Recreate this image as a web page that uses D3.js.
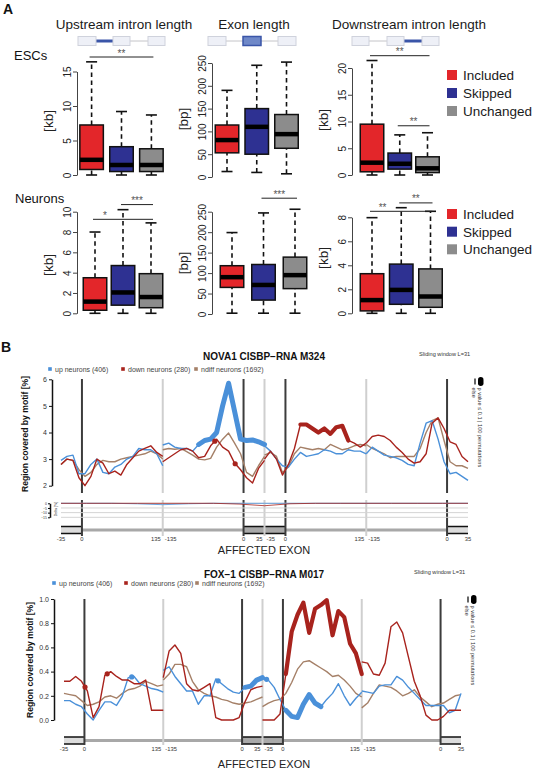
<!DOCTYPE html>
<html><head><meta charset="utf-8">
<script src="https://cdn.jsdelivr.net/npm/d3@7"></script>
<style>body{margin:0;background:#fff}svg{display:block;font-family:"Liberation Sans",Arial,Helvetica,sans-serif}</style>
</head><body><svg id="chart" width="536" height="772"></svg>
<script>
// ---------------- DATA ----------------
const groups = ["Included", "Skipped", "Unchanged"];
const groupColors = ["#e3262a", "#2e3192", "#8c8c8c"];
const panelTitles = ["Upstream intron length", "Exon length", "Downstream intron length"];
const rowLabels = ["ESCs", "Neurons"];
const unitLabels = ["[kb]", "[bp]", "[kb]"];
// box stats: [lower whisker, Q1, median, Q3, upper whisker]
const escUpstream   = [[0, 0.8, 2.2, 7.25, 16.4], [0, 0.5, 1.45, 4.1, 9.2], [0, 0.5, 1.45, 3.8, 8.7]];
const escExon       = [[12, 53, 81, 114, 190], [10, 50, 110, 150, 245], [7, 63, 94, 137, 252]];
const escDownstream = [[0, 0.6, 2.3, 9.5, 21.4], [0, 1.1, 2.1, 4.1, 7.5], [0, 0.45, 1.25, 3.4, 7.9]];
const neuUpstream   = [[0, 0.3, 1.15, 3.5, 8.0], [0, 0.8, 2.05, 4.7, 10.2], [0, 0.55, 1.6, 3.9, 8.9]];
const neuExon       = [[2, 65, 90, 118, 199], [2, 34, 71, 121, 247], [2, 62, 95, 139, 256]];
const neuDownstream = [[0, 0.2, 1.1, 3.3, 7.97], [0, 0.75, 1.95, 4.1, 8.8], [0, 0.5, 1.4, 3.7, 8.5]];
const escTicks = [[0, 5, 10, 15], [0, 50, 100, 150, 200, 250], [0, 5, 10, 15, 20]];
const neuTicks = [[0, 2, 4, 6, 8, 10], [0, 50, 100, 150, 200, 250], [0, 2, 4, 6, 8]];
// significance bars: panel, from group, to group, height (data units), label
const escSig = [[0, 0, 2, 17.1, "**"], [2, 0, 2, 22.3, "**"], [2, 1, 2, 9.2, "**"]];
const neuSig = [[0, 0, 2, 9.25, "*"], [0, 1, 2, 10.7, "***"], [1, 1, 2, 283, "***"], [2, 0, 2, 8.5, "**"], [2, 1, 2, 9.2, "**"]];

// Panel B: coverage profiles, 4 contiguous pieces of 170 nt, sampled every 10 nt (18 values per piece)
const seriesNames = ["up neurons (406)", "down neurons (280)", "ndiff neurons (1692)"];
const seriesColors = ["#4a90d9", "#a8231d", "#a58068"];
const novaUp = [2.95,3.1,3.15,2.45,2.45,2.8,3.0,2.5,2.45,2.7,2.8,3.0,3.1,3.4,3.35,3.35,3.2,2.75,
  3.53,3.6,3.45,3.4,3.4,3.3,3.55,3.7,3.75,4.0,5.0,5.85,4.8,3.75,3.7,3.72,3.65,3.55,
  3.5,3.3,3.0,2.75,2.7,3.0,3.25,3.1,3.15,3.2,3.35,3.3,3.2,3.2,3.35,3.3,3.3,3.2,
  3.2,3.45,3.3,3.15,3.1,3.05,2.95,2.8,2.75,3.6,4.35,4.45,3.75,2.9,2.45,2.5,2.35,2.2];
const novaDown = [2.8,3.0,2.95,2.3,2.0,2.35,3.0,2.85,2.45,2.55,2.4,2.8,3.05,3.3,3.4,3.5,3.25,3.1,
  2.9,3.05,3.2,3.35,3.4,3.3,3.05,3.1,3.5,3.75,3.45,3.3,2.85,2.6,2.3,2.1,2.65,2.95,
  3.0,3.3,3.0,2.4,2.8,3.4,4.3,4.3,4.15,4.0,4.15,3.95,4.2,4.25,3.7,3.6,3.45,3.6,
  3.6,3.85,3.9,3.85,3.7,3.45,3.25,3.0,2.85,2.9,3.2,4.35,4.55,4.15,3.65,3.55,3.1,2.9];
const novaNdiff = [2.8,3.0,2.95,2.6,2.35,2.5,2.8,2.95,2.9,2.9,3.0,3.05,3.1,3.15,3.2,3.3,3.2,3.0,
  3.35,3.4,3.37,3.4,3.28,3.15,3.0,2.97,3.03,3.45,3.75,3.98,3.6,3.2,2.5,2.35,2.75,3.1,
  3.15,3.25,3.1,2.5,2.7,3.2,3.45,3.4,3.35,3.4,3.35,3.55,3.45,3.35,3.4,3.5,3.55,3.5,
  3.55,3.4,3.3,3.2,3.05,3.1,3.1,3.1,3.1,3.4,4.0,4.45,4.55,3.7,2.9,2.75,2.75,2.65];
const foxUp = [0.16,0.16,0.13,0.11,0.05,0.0,0.08,0.15,0.15,0.12,0.2,0.35,0.36,0.3,0.28,0.26,0.25,0.23,
  0.41,0.44,0.36,0.3,0.24,0.24,0.13,0.2,0.2,0.34,0.3,0.26,0.23,0.22,0.27,0.28,0.33,0.35,
  0.35,0.33,0.27,0.17,0.08,0.03,0.02,0.13,0.21,0.14,0.11,0.17,0.22,0.3,0.2,0.12,0.18,0.23,
  0.24,0.23,0.22,0.28,0.29,0.29,0.36,0.33,0.27,0.22,0.17,0.12,0.12,0.12,0.12,0.06,0.08,0.22];
const foxDown = [0.32,0.32,0.36,0.32,0.24,0.02,0.11,0.37,0.4,0.36,0.33,0.33,0.3,0.3,0.33,0.08,0.08,0.08,
  0.35,0.57,0.62,0.55,0.3,0.25,0.24,0.27,0.3,0.02,0.0,0.0,0.0,0.02,0.15,0.25,0.27,0.28,
  0.0,0.0,0.0,0.05,0.38,0.73,0.87,0.97,0.72,0.92,0.95,0.99,0.7,0.9,0.85,0.63,0.55,0.38,
  0.48,0.47,0.38,0.37,0.47,0.77,0.81,0.72,0.52,0.32,0.2,0.04,0.0,0.0,0.03,0.08,0.08,0.08];
const foxNdiff = [0.22,0.21,0.2,0.16,0.12,0.13,0.15,0.19,0.2,0.18,0.22,0.25,0.26,0.28,0.32,0.3,0.28,0.29,
  0.33,0.38,0.46,0.46,0.44,0.32,0.25,0.22,0.2,0.19,0.17,0.16,0.14,0.13,0.14,0.15,0.17,0.19,
  0.11,0.14,0.16,0.17,0.22,0.31,0.42,0.48,0.49,0.46,0.43,0.4,0.36,0.37,0.33,0.28,0.22,0.19,
  0.1,0.14,0.22,0.29,0.28,0.27,0.24,0.2,0.22,0.25,0.19,0.15,0.11,0.13,0.14,0.17,0.2,0.21];
// significant stretches (p <= 0.1): series index, from nt, to nt
const novaThick = [[0, 230, 340], [1, 400, 480]];
const foxThick = [[0, 310, 340], [0, 380, 440], [1, 380, 510]];
// single significant windows: series index, position
const novaDots = [[1, 257], [1, 291]];
const foxDots = [[1, 36], [1, 74], [0, 116], [0, 264], [0, 347]];
// delta track (NOVA1), 5 points per piece
const deltaUp   = [0,0,0,-0.5,-1.5, -1.5,-0.5,0,0,0, 0,0,0,0,0, 0,0,0,0,0];
const deltaDown = [0,0,0,0,0, 0,0,0,-0.8,-2.6, -2.6,-0.5,0,0,0, 0,0,0,0,0];
const deltaTicks = [0, -5, -10, -15];
const novaTicks = [2, 3, 4, 5, 6];
const foxTicks = [0, 0.2, 0.4, 0.6, 0.8, 1.0];
const exonBounds = [35, 305, 375, 645];
const intronBreaks = [170, 340, 510];
const positionLabels = [[0, "-35", "middle"], [35, "0", "middle"], [170, "135", "end"], [170, "-135", "start"],
  [305, "0", "middle"], [340, "35", "end"], [340, "-35", "start"], [375, "0", "middle"],
  [510, "135", "end"], [510, "-135", "start"], [645, "0", "middle"], [680, "35", "middle"]];

// ---------------- DRAW ----------------
const svg = d3.select("#chart");
const txt = (x, y, s, size, opts = {}) => {
  const t = svg.append("text").attr("x", x).attr("y", y).text(s).attr("font-size", size)
    .attr("fill", opts.fill || "#111").attr("text-anchor", opts.anchor || "start");
  if (opts.bold) t.attr("font-weight", "bold");
  if (opts.rot !== undefined) t.attr("x", 0).attr("y", 0).attr("transform", `translate(${x},${y}) rotate(${opts.rot})`);
  return t;
};

// ----- Panel A -----
txt(3, 14, "A", 14, {bold: true});
const titleCx = [124, 254, 409];
panelTitles.forEach((t, i) => txt(titleCx[i], 29, t, 13.5, {anchor: "middle", fill: "#1a1a1a"}));

// gene diagrams
const diagrams = [
  {boxes: [[78, 96], [113, 130], [148, 165]], hlLine: 0, hlBox: -1},
  {boxes: [[208, 226], [243, 261], [278, 296]], hlLine: -1, hlBox: 1},
  {boxes: [[352, 369], [387, 404], [422, 439]], hlLine: 1, hlBox: -1}
];
diagrams.forEach(d => {
  for (let i = 0; i < 2; i++) {
    const hl = d.hlLine === i;
    svg.append("line").attr("x1", d.boxes[i][1]).attr("x2", d.boxes[i + 1][0]).attr("y1", 41).attr("y2", 41)
      .attr("stroke", hl ? "#3a55a8" : "#c4c4c8").attr("stroke-width", hl ? 3 : 1);
  }
  d.boxes.forEach((b, i) => {
    const hl = d.hlBox === i;
    svg.append("rect").attr("x", b[0]).attr("y", 36.5).attr("width", b[1] - b[0]).attr("height", 9)
      .attr("fill", hl ? "#6f88c8" : "#eef0f7").attr("stroke", hl ? "#3a55a8" : "#cfd2dc").attr("stroke-width", hl ? 1.5 : 1);
  });
});

txt(14, 60, rowLabels[0], 13);
txt(15, 203, rowLabels[1], 13);

const boxPanels = [
  {stats: escUpstream, ticks: escTicks[0], rng: [175, 71.5], axisX: 77, c: [91.6, 151.4], unitY: 121, sig: escSig, idx: 0},
  {stats: escExon, ticks: escTicks[1], rng: [177, 63], axisX: 212, c: [227, 286.5], unitY: 119, sig: escSig, idx: 1},
  {stats: escDownstream, ticks: escTicks[2], rng: [175, 68], axisX: 352, c: [372, 427.5], unitY: 120, sig: escSig, idx: 2},
  {stats: neuUpstream, ticks: neuTicks[0], rng: [313.3, 211.7], axisX: 77, c: [95, 151], unitY: 265, sig: neuSig, idx: 0},
  {stats: neuExon, ticks: neuTicks[1], rng: [314, 211.7], axisX: 212, c: [232, 295], unitY: 263, sig: neuSig, idx: 1},
  {stats: neuDownstream, ticks: neuTicks[2], rng: [313.3, 217.3], axisX: 352, c: [372, 430.5], unitY: 258, sig: neuSig, idx: 2}
];
const boxW = 23.5;
boxPanels.forEach(p => {
  const tmax = p.ticks[p.ticks.length - 1];
  const y = d3.scaleLinear().domain([0, tmax]).range(p.rng);
  const x = d3.scalePoint().domain(groups).range(p.c);
  const ax = svg.append("g").attr("transform", `translate(${p.axisX},0)`)
    .call(d3.axisLeft(y).tickValues(p.ticks).tickSize(4).tickSizeOuter(0));
  ax.select(".domain").attr("stroke", "#444").attr("stroke-width", 1);
  ax.selectAll(".tick line").attr("stroke", "#444");
  ax.selectAll("text").attr("transform", "rotate(-90)").attr("x", 0).attr("y", -6).attr("dy", 0)
    .attr("text-anchor", "middle").attr("font-size", 10).attr("fill", "#222")
    .attr("font-family", "Liberation Sans, Arial, sans-serif");
  txt(p.axisX - 24, p.unitY, unitLabels[p.idx], 13.5, {rot: -90, anchor: "middle", fill: "#222"});

  p.stats.forEach((s, i) => {
    const cx = x(groups[i]);
    const g = svg.append("g");
    [[s[3], s[4]], [s[0], s[1]]].forEach(([a, b]) =>
      g.append("line").attr("x1", cx).attr("x2", cx).attr("y1", y(a)).attr("y2", y(b))
        .attr("stroke", "#111").attr("stroke-width", 1.6).attr("stroke-dasharray", "4.5,3.5"));
    [s[0], s[4]].forEach(v => g.append("line").attr("x1", cx - 5.5).attr("x2", cx + 5.5).attr("y1", y(v)).attr("y2", y(v))
      .attr("stroke", "#111").attr("stroke-width", 1.6));
    g.append("rect").attr("x", cx - boxW / 2).attr("y", y(s[3])).attr("width", boxW).attr("height", y(s[1]) - y(s[3]))
      .attr("fill", groupColors[i]).attr("stroke", "#111").attr("stroke-width", 1.5);
    g.append("line").attr("x1", cx - boxW / 2).attr("x2", cx + boxW / 2).attr("y1", y(s[2])).attr("y2", y(s[2]))
      .attr("stroke", "#000").attr("stroke-width", 4.5);
  });
  p.sig.filter(s => s[0] === p.idx).forEach(s => {
    const x1 = x(groups[s[1]]), x2 = x(groups[s[2]]), yy = y(s[3]);
    svg.append("line").attr("x1", x1 - 2).attr("x2", x2 + 2).attr("y1", yy).attr("y2", yy).attr("stroke", "#222").attr("stroke-width", 1);
    // keep the stars clear of a whisker that pokes through the bar
    let lx = (x1 + x2) / 2;
    if (s[2] - s[1] === 2 && p.stats[s[1] + 1][4] > s[3] - tmax * 0.02) lx = (x1 + x(groups[s[1] + 1])) / 2 - 4;
    txt(lx, yy - 0.5, s[4], 10, {anchor: "middle", fill: "#555"});
  });
});

// legends panel A
[[75, 93, 111], [214, 231.7, 249.3]].forEach(rows => {
  rows.forEach((cy, i) => {
    svg.append("rect").attr("x", 447).attr("y", cy - 5).attr("width", 10).attr("height", 10).attr("fill", groupColors[i]);
    txt(463, cy + 5, groups[i], 13.5, {fill: "#1a1a1a"});
  });
});

// ----- Panel B -----
txt(1, 352, "B", 14, {bold: true});

const profiles = [
  {title: "NOVA1 CISBP\u2212RNA M324", data: [novaUp, novaDown, novaNdiff], thick: novaThick, dots: novaDots,
   yDomain: [2, 6], yRange: [485.7, 379.3], ticks: novaTicks, fmt: d3.format("d"), x0: 61, x1: 468, axisX: 52,
   titleY: 359.5, legendY: 369, legendX: [50, 123, 196], slideX: 419, slideY: 356,
   vSegs: [[379, 493], [500, 536]], delta: true, structY: 530, labelY: 540.5, affY: 554,
   ylab: [28, 434], pval: [478, 377]},
  {title: "FOX\u22121 CISBP\u2212RNA M017", data: [foxUp, foxDown, foxNdiff], thick: foxThick, dots: foxDots,
   yDomain: [0, 1], yRange: [720, 599], ticks: foxTicks, fmt: d3.format(".1f"), x0: 64, x1: 461, axisX: 54,
   titleY: 577.5, legendY: 583, legendX: [54, 126, 197], slideX: 414, slideY: 574,
   vSegs: [[599, 745]], delta: false, structY: 740.5, labelY: 751, affY: 768,
   ylab: [33, 660], pval: [471, 595]}
];

const pieceOffsets = d3.range(18).map(i => i * 10);
function piecePoints(arr, p) { return pieceOffsets.map((d, i) => [p * 170 + d, arr[p * 18 + i]]); }
function valueAt(arr, u) {
  const p = Math.min(3, Math.floor(u / 170)), loc = u - p * 170;
  const i = Math.min(16, Math.floor(loc / 10)), t = (loc - i * 10) / 10;
  return arr[p * 18 + i] * (1 - t) + arr[p * 18 + i + 1] * t;
}

profiles.forEach(cfg => {
  const x = d3.scaleLinear().domain([0, 680]).range([cfg.x0, cfg.x1]);
  const y = d3.scaleLinear().domain(cfg.yDomain).range(cfg.yRange);
  txt(264, cfg.titleY, cfg.title, 10, {anchor: "middle", bold: true});
  txt(cfg.slideX, cfg.slideY, "Sliding window L=31", 5.6, {fill: "#333"});
  seriesNames.forEach((n, i) => {
    svg.append("rect").attr("x", cfg.legendX[i] - 1.8).attr("y", cfg.legendY - 1.8).attr("width", 3.6).attr("height", 3.6).attr("fill", seriesColors[i]);
    txt(cfg.legendX[i] + 5, cfg.legendY + 2.5, n, 7, {fill: "#444"});
  });
  // y axis
  const ax = svg.append("g").attr("transform", `translate(${cfg.axisX},0)`)
    .call(d3.axisLeft(y).tickValues(cfg.ticks).tickFormat(cfg.fmt).tickSize(3).tickSizeOuter(0));
  ax.select(".domain").attr("stroke", "#111").attr("stroke-width", 1.5);
  ax.selectAll(".tick line").attr("stroke", "#111");
  ax.selectAll("text").attr("font-size", 7).attr("fill", "#333").attr("x", -5)
    .attr("font-family", "Liberation Sans, Arial, sans-serif");
  txt(cfg.ylab[0], cfg.ylab[1], "Region covered by motif [%]", 8.6, {rot: -90, anchor: "middle", bold: true});

  // gene structure
  const sy = cfg.structY;
  [[35, 305], [375, 645]].forEach(([a, b]) => svg.append("line").attr("x1", x(a)).attr("x2", x(b)).attr("y1", sy).attr("y2", sy)
    .attr("stroke", "#a8a8a8").attr("stroke-width", 3));
  [[0, 35, "#dcdcdc"], [305, 375, "#a9a9a9"], [645, 680, "#dcdcdc"]].forEach(([a, b, f]) => {
    svg.append("rect").attr("x", x(a)).attr("y", sy - 3.5).attr("width", x(b) - x(a)).attr("height", 7).attr("fill", f);
    [sy - 3.5, sy + 3.5].forEach(yy => svg.append("line").attr("x1", x(a)).attr("x2", x(b)).attr("y1", yy).attr("y2", yy)
      .attr("stroke", "#111").attr("stroke-width", 1.5));
  });
  positionLabels.forEach(([u, t, anc]) => {
    const dx = anc === "end" ? -2 : anc === "start" ? 2 : 0;
    txt(x(u) + dx, cfg.labelY, t, 5.8, {anchor: anc, fill: "#333"});
  });
  txt(264, cfg.affY, "AFFECTED EXON", 11, {anchor: "middle", fill: "#222"});

  // vertical lines
  cfg.vSegs.forEach(([a, b]) => {
    intronBreaks.forEach(u => svg.append("line").attr("x1", x(u)).attr("x2", x(u)).attr("y1", a).attr("y2", b)
      .attr("stroke", "#cfcfcf").attr("stroke-width", 2));
    exonBounds.forEach(u => svg.append("line").attr("x1", x(u)).attr("x2", x(u)).attr("y1", a).attr("y2", b)
      .attr("stroke", "#3c3c3c").attr("stroke-width", 2));
  });

  // delta track
  if (cfg.delta) {
    const dy = d3.scaleLinear().domain([0, -15]).range([503.3, 517.3]);
    deltaTicks.forEach(v => svg.append("line").attr("x1", cfg.x0).attr("x2", cfg.x1).attr("y1", dy(v)).attr("y2", dy(v))
      .attr("stroke", "#d4d4d4").attr("stroke-width", 1));
    const dax = svg.append("g").attr("transform", `translate(50,0)`)
      .call(d3.axisLeft(dy).tickValues(deltaTicks).tickSize(2).tickSizeOuter(0));
    dax.select(".domain").attr("stroke", "#111").attr("stroke-width", 1.5);
    dax.selectAll("text").attr("font-size", 3.5).attr("fill", "#333").attr("x", -3);
    txt(57, 509, "Delta [%]", 3.6, {rot: -90, anchor: "middle", fill: "#333"});
    const dl = d3.line().x(d => x(d[0])).y(d => dy(d[1]));
    [[deltaUp, seriesColors[0]], [deltaDown, seriesColors[1]]].forEach(([arr, col]) => {
      for (let p = 0; p < 4; p++) {
        const pts = d3.range(5).map(i => [p * 170 + i * 42.5, arr[p * 5 + i]]);
        svg.append("path").attr("d", dl(pts)).attr("fill", "none").attr("stroke", col).attr("stroke-width", 1).attr("opacity", 0.8);
      }
    });
  }

  // series
  const line = d3.line().x(d => x(d[0])).y(d => y(d[1]));
  [2, 0, 1].forEach(si => {
    for (let p = 0; p < 4; p++) {
      svg.append("path").attr("d", line(piecePoints(cfg.data[si], p))).attr("fill", "none")
        .attr("stroke", seriesColors[si]).attr("stroke-width", 1.4).attr("stroke-linejoin", "round");
    }
  });
  cfg.thick.forEach(([si, a, b]) => {
    const p = Math.floor(a / 170);
    const pts = piecePoints(cfg.data[si], p).filter(d => d[0] >= a && d[0] <= b);
    svg.append("path").attr("d", line(pts)).attr("fill", "none").attr("stroke", seriesColors[si])
      .attr("stroke-width", si === 0 ? 5 : 4.2).attr("stroke-linejoin", "round").attr("stroke-linecap", "round");
  });
  cfg.dots.forEach(([si, u]) => svg.append("circle").attr("cx", x(u)).attr("cy", y(valueAt(cfg.data[si], u))).attr("r", 2.6)
    .attr("fill", seriesColors[si]));

  // p-value legend
  const [px, py] = cfg.pval;
  svg.append("rect").attr("x", px).attr("y", py).attr("width", 5.5).attr("height", 9).attr("rx", 2.7).attr("fill", "#000");
  svg.append("line").attr("x1", px - 3).attr("x2", px - 3).attr("y1", py + 1.5).attr("y2", py + 7.5).attr("stroke", "#000").attr("stroke-width", 1.2);
  txt(px, py + 10.5, "p value \u2264 0.1  |  100 permutations", 5.6, {rot: 90, fill: "#333"});
  txt(px - 6, py + 10.5, "else", 5.6, {rot: 90, fill: "#333"});
});
</script>
</body></html>
